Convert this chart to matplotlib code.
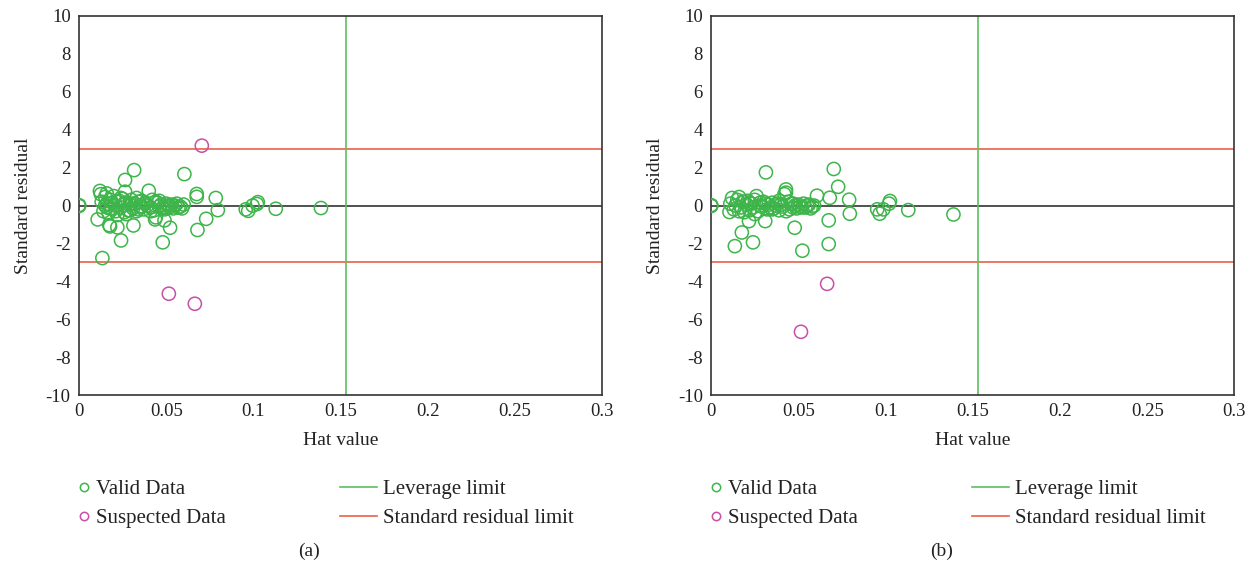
import matplotlib
import matplotlib.pyplot as plt
from matplotlib.lines import Line2D

matplotlib.use("Agg")

plt.rcParams["font.family"] = ["Liberation Serif", "DejaVu Serif"]
plt.rcParams["axes.unicode_minus"] = False

# panel (a)
valid_a_x = [0, 0, 0, 0.0316, 0.0264, 0.0604, 0.012, 0.0125, 0.0159, 0.0264, 0.040,
             0.0675, 0.0675, 0.0784, 0.0796, 0.0729, 0.0679, 0.0522, 0.049, 0.048,
             0.0241, 0.0134, 0.0107, 0.0174, 0.0178, 0.022, 0.0312, 0.0436, 0.044,
             0.0956, 0.097, 0.0995, 0.102, 0.1025, 0.1128, 0.1387, 0.060, 0.059,
             0.013, 0.014, 0.015, 0.016, 0.017, 0.018, 0.019, 0.020, 0.021, 0.022,
             0.023, 0.024, 0.025, 0.026, 0.027, 0.028, 0.029, 0.030, 0.031, 0.032,
             0.033, 0.034, 0.035, 0.036, 0.037, 0.038, 0.039, 0.041, 0.042, 0.043,
             0.045, 0.046, 0.047, 0.049, 0.050, 0.051, 0.052, 0.053, 0.054, 0.055,
             0.056, 0.057, 0.058, 0.016, 0.019, 0.021, 0.024, 0.027, 0.030, 0.034,
             0.038, 0.044, 0.048, 0.052, 0.015, 0.018, 0.022, 0.026, 0.029, 0.033,
             0.036, 0.041, 0.046, 0.050]
valid_a_y = [0, 0.02, -0.02, 1.87, 1.35, 1.66, 0.77, 0.6, 0.64, 0.73, 0.78,
             0.61, 0.46, 0.40, -0.24, -0.70, -1.29, -1.17, -0.78, -1.94,
             -1.84, -2.77, -0.73, -1.03, -1.1, -1.15, -1.05, -0.73, -0.62,
             -0.2, -0.28, 0.0, 0.08, 0.18, -0.17, -0.13, 0.05, -0.15,
             0.2, -0.3, 0.45, 0.1, -0.4, 0.3, -0.2, 0.5, 0.0, -0.5,
             0.25, -0.1, 0.35, -0.35, 0.15, -0.25, 0.05, 0.3, -0.15, 0.1,
             -0.3, 0.2, -0.05, 0.25, -0.2, 0.1, 0.0, -0.1, 0.3, -0.25,
             0.15, -0.05, 0.05, -0.2, 0.1, 0.0, -0.1, 0.05, -0.15, 0.0,
             0.1, -0.1, -0.05, -0.1, 0.15, -0.3, 0.4, -0.45, 0.1, -0.2,
             0.15, 0.2, -0.15, 0.0, 0.0, -0.15, 0.2, 0.05, -0.25, 0.4,
             -0.05, -0.3, 0.25, -0.1]
suspect_a_x = [0.0704, 0.0515, 0.0664]
suspect_a_y = [3.16, -4.65, -5.18]

# panel (b)
valid_b_x = [0, 0, 0, 0.0314, 0.0703, 0.0728, 0.0429, 0.0429, 0.042, 0.0607, 0.068,
             0.0791, 0.0795, 0.0674, 0.0674, 0.0479, 0.0523, 0.024, 0.0136, 0.0176,
             0.0105, 0.0217, 0.031, 0.0952, 0.0966, 0.0987, 0.1025, 0.102, 0.113,
             0.1389, 0.012, 0.016, 0.026,
             0.011, 0.013, 0.015, 0.017, 0.018, 0.019, 0.020, 0.021, 0.022, 0.023,
             0.024, 0.025, 0.027, 0.028, 0.029, 0.030, 0.032, 0.033, 0.034, 0.035,
             0.036, 0.037, 0.038, 0.039, 0.040, 0.041, 0.044, 0.045, 0.046, 0.047,
             0.048, 0.049, 0.050, 0.051, 0.053, 0.054, 0.055, 0.056, 0.057, 0.058,
             0.059, 0.014, 0.016, 0.019, 0.022, 0.025, 0.028, 0.031, 0.035, 0.039,
             0.043, 0.047, 0.052]
valid_b_y = [0, 0.02, -0.02, 1.75, 1.93, 0.99, 0.85, 0.68, 0.6, 0.52, 0.41,
             0.31, -0.43, -0.78, -2.03, -1.17, -2.38, -1.94, -2.14, -1.42,
             -0.34, -0.82, -0.82, -0.2, -0.43, -0.2, 0.24, 0.1, -0.24,
             -0.47, 0.4, 0.45, 0.5,
             0.1, -0.2, 0.3, -0.1, 0.2, -0.35, 0.05, 0.25, -0.25, 0.1,
             -0.1, 0.3, -0.3, 0.15, -0.05, 0.2, -0.2, 0.05, -0.1, 0.15,
             -0.15, 0.0, 0.1, -0.25, 0.05, -0.05, 0.2, -0.2, 0.1, -0.1,
             0.0, -0.15, 0.05, -0.05, 0.1, -0.1, 0.0, 0.05, -0.15, -0.05,
             0.0, 0.0, -0.3, 0.2, 0.15, -0.45, 0.0, 0.1, -0.2, 0.25,
             -0.3, 0.1, -0.1]
suspect_b_x = [0.0665, 0.0515]
suspect_b_y = [-4.13, -6.66]

leverage_limit = 0.153
residual_limit = 3

panels = [
    ("(a)", valid_a_x, valid_a_y, suspect_a_x, suspect_a_y),
    ("(b)", valid_b_x, valid_b_y, suspect_b_x, suspect_b_y),
]

GREEN = "#3db54a"
MAGENTA = "#c94fa6"
RED = "#e8604c"
LINE_GREEN = "#5dbf5f"
TEXT = "#222222"

fig = plt.figure(figsize=(12.52, 5.71), dpi=100)
lefts = [0.0631, 0.568]
width = 0.418

for (caption, vx, vy, sx, sy), left in zip(panels, lefts):
    ax = fig.add_axes([left, 0.308, width, 0.664])
    ax.axhline(0, color="#333333", lw=1.2, zorder=1)
    ax.axhline(residual_limit, color=RED, lw=1.2, zorder=1)
    ax.axhline(-residual_limit, color=RED, lw=1.2, zorder=1)
    ax.axvline(leverage_limit, color=LINE_GREEN, lw=1.2, zorder=1)
    ax.scatter(vx, vy, s=90, facecolors="none", edgecolors=GREEN, linewidths=1.1, zorder=3)
    ax.scatter(sx, sy, s=90, facecolors="none", edgecolors=MAGENTA, linewidths=1.1, zorder=3)

    ax.set_xlim(0, 0.3)
    ax.set_ylim(-10, 10)
    ax.set_xticks([0, 0.05, 0.1, 0.15, 0.2, 0.25, 0.3])
    ax.set_xticklabels(["0", "0.05", "0.1", "0.15", "0.2", "0.25", "0.3"])
    ax.set_yticks(range(-10, 11, 2))
    ax.tick_params(length=0, labelsize=13.5, colors=TEXT, pad=6)
    for sp in ax.spines.values():
        sp.set_color("#333333")
        sp.set_linewidth(1.2)
    ax.set_xlabel("Hat value", fontsize=14, color=TEXT, labelpad=8)
    ax.set_ylabel("Standard residual", fontsize=14, color=TEXT, labelpad=10)

    pt_handles = [
        Line2D([], [], ls="none", marker="o", mfc="none", mec=GREEN, ms=6, mew=1.1),
        Line2D([], [], ls="none", marker="o", mfc="none", mec=MAGENTA, ms=6, mew=1.1),
    ]
    ln_handles = [
        Line2D([], [], color=LINE_GREEN, lw=1.2),
        Line2D([], [], color=RED, lw=1.2),
    ]
    leg1 = ax.legend(pt_handles, ["Valid Data", "Suspected Data"], loc="upper left",
                     bbox_to_anchor=(-0.002, -0.222), frameon=False, fontsize=15,
                     handlelength=0.6, handletextpad=0.25, labelspacing=0.45,
                     borderpad=0, borderaxespad=0)
    for t in leg1.get_texts():
        t.set_color(TEXT)
    ax.add_artist(leg1)
    leg2 = ax.legend(ln_handles, ["Leverage limit", "Standard residual limit"],
                     loc="upper left", bbox_to_anchor=(0.499, -0.222), frameon=False,
                     fontsize=15, handlelength=1.75, handletextpad=0.3,
                     labelspacing=0.45, borderpad=0, borderaxespad=0)
    for t in leg2.get_texts():
        t.set_color(TEXT)
    ax.text(0.44, -0.39, caption, transform=ax.transAxes, ha="center", va="top",
            fontsize=14, color=TEXT)

fig.savefig("out.png", dpi=100)
